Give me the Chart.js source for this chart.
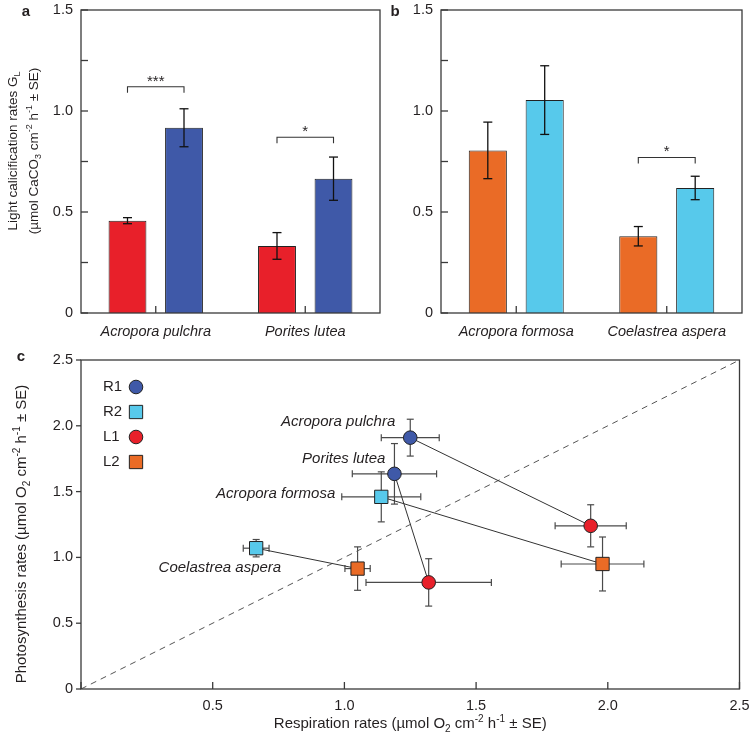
<!DOCTYPE html>
<html>
<head>
<meta charset="utf-8">
<script src="https://cdn.jsdelivr.net/npm/chart.js@4.4.0/dist/chart.umd.min.js"></script>
<style>
body { margin: 0; background: #fff; }
#wrap { position: relative; width: 750px; height: 740px; }
canvas { position: absolute; }
</style>
</head>
<body>
<div id="wrap">
  <canvas id="chartA" width="385" height="345" style="left:0;top:0"></canvas>
  <canvas id="chartB" width="365" height="345" style="left:385px;top:0"></canvas>
  <canvas id="chartC" width="750" height="400" style="left:0;top:340px"></canvas>
</div>
<script>
// ---- panel a: calcification, Acropora pulchra / Porites lutea ----
const speciesA = ['Acropora pulchra', 'Porites lutea'];
const calcL1 = [0.457, 0.332];
const calcL1Err = [0.015, 0.066];
const calcR1 = [0.917, 0.665];
const calcR1Err = [0.094, 0.107];
const sigA = ['***', '*'];
const sigAY = [1.12, 0.87];

// ---- panel b: calcification, Acropora formosa / Coelastrea aspera ----
const speciesB = ['Acropora formosa', 'Coelastrea aspera'];
const calcL2 = [0.805, 0.380];
const calcL2Err = [0.14, 0.048];
const calcR2 = [1.054, 0.619];
const calcR2Err = [0.17, 0.058];
const sigB = ['', '*'];
const sigBY = [null, 0.77];

// ---- panel c: respiration vs photosynthesis ----
const groupNames = ['R1', 'R2', 'L1', 'L2'];
const r1Species = ['Acropora pulchra', 'Porites lutea'];
const r2Species = ['Acropora formosa', 'Coelastrea aspera'];
const r1Resp = [1.25, 1.19];
const r1RespErr = [0.11, 0.16];
const r1Photo = [1.91, 1.635];
const r1PhotoErr = [0.14, 0.23];
const l1Resp = [1.935, 1.32];
const l1RespErr = [0.135, 0.238];
const l1Photo = [1.24, 0.81];
const l1PhotoErr = [0.16, 0.18];
const r2Resp = [1.14, 0.665];
const r2RespErr = [0.15, 0.049];
const r2Photo = [1.46, 1.07];
const r2PhotoErr = [0.19, 0.066];
const l2Resp = [1.98, 1.05];
const l2RespErr = [0.157, 0.048];
const l2Photo = [0.95, 0.915];
const l2PhotoErr = [0.205, 0.165];

const FONT = '"Liberation Sans", Arial, Helvetica, sans-serif';
const INK = '#231f20';
const AXIS = '#3a3a3a';
const RED = '#e8202a', BLUE = '#3f59a8', ORANGE = '#ea6b26', CYAN = '#57c9eb';

Chart.defaults.font.family = FONT;
Chart.defaults.color = INK;

// text with sub/superscript pieces: [text, 'sub'|'sup'|undefined]
function richText(ctx, parts, x, y, size, align) {
    const big = size + 'px ' + FONT;
    const small = Math.round(size * 0.68) + 'px ' + FONT;
    let w = 0;
    parts.forEach(p => { ctx.font = p[1] ? small : big; w += ctx.measureText(p[0]).width; });
    let cx = align === 'center' ? x - w / 2 : x;
    ctx.textAlign = 'left';
    ctx.textBaseline = 'middle';
    parts.forEach(p => {
        ctx.font = p[1] ? small : big;
        const dy = p[1] === 'sub' ? size * 0.32 : p[1] === 'sup' ? -size * 0.32 : 0;
        ctx.fillText(p[0], cx, y + dy);
        cx += ctx.measureText(p[0]).width;
    });
}

function verticalText(ctx, parts, x, y, size) {
    ctx.save();
    ctx.translate(x, y);
    ctx.rotate(-Math.PI / 2);
    richText(ctx, parts, 0, 0, size, 'center');
    ctx.restore();
}

function line(ctx, x0, y0, x1, y1) {
    ctx.beginPath();
    ctx.moveTo(x0, y0);
    ctx.lineTo(x1, y1);
    ctx.stroke();
}

function tickLabel(v) {
    if (Math.abs(v * 2 - Math.round(v * 2)) > 1e-9) return '';
    return v === 0 ? '0' : v.toFixed(1);
}

// no chart.js gridlines or tick marks; plugins draw the ticks
const noGrid = { display: false, drawTicks: false, tickLength: 0 };

// error bars, frame, ticks and significance brackets for the bar panels
const barDecor = {
    id: 'barDecor',
    afterDatasetsDraw(chart, args, opts) {
        const { ctx, chartArea: a, scales: { x, y } } = chart;
        ctx.save();
        ctx.strokeStyle = '#111';
        ctx.lineWidth = 1.3;
        chart.data.datasets.forEach((ds, di) => {
            chart.getDatasetMeta(di).data.forEach((bar, i) => {
                const top = y.getPixelForValue(ds.data[i] + ds.errors[i]);
                const bot = y.getPixelForValue(ds.data[i] - ds.errors[i]);
                line(ctx, bar.x, top, bar.x, bot);
                line(ctx, bar.x - 4.5, top, bar.x + 4.5, top);
                line(ctx, bar.x - 4.5, bot, bar.x + 4.5, bot);
            });
        });

        ctx.strokeStyle = AXIS;
        ctx.lineWidth = 1.3;
        ctx.strokeRect(a.left, a.top, a.right - a.left, a.bottom - a.top);
        y.ticks.forEach(t => {
            const py = y.getPixelForValue(t.value);
            line(ctx, a.left, py, a.left + 7, py);
        });
        x.ticks.forEach((t, i) => {
            const px = x.getPixelForValue(i);
            line(ctx, px, a.bottom, px, a.bottom - 7);
        });

        // brackets
        ctx.strokeStyle = '#333';
        ctx.lineWidth = 1.1;
        ctx.fillStyle = INK;
        ctx.font = '15px ' + FONT;
        ctx.textAlign = 'center';
        ctx.textBaseline = 'alphabetic';
        opts.labels.forEach((lab, i) => {
            if (!lab) return;
            const x0 = chart.getDatasetMeta(0).data[i].x;
            const x1 = chart.getDatasetMeta(1).data[i].x;
            const py = y.getPixelForValue(opts.levels[i]);
            ctx.beginPath();
            ctx.moveTo(x0, py + 6);
            ctx.lineTo(x0, py);
            ctx.lineTo(x1, py);
            ctx.lineTo(x1, py + 6);
            ctx.stroke();
            ctx.fillText(lab, (x0 + x1) / 2, py - 1);
        });
        ctx.restore();
    },
    afterDraw(chart, args, opts) {
        const { ctx } = chart;
        ctx.save();
        ctx.fillStyle = INK;
        ctx.font = 'bold 15px ' + FONT;
        ctx.textAlign = 'center';
        ctx.textBaseline = 'middle';
        ctx.fillText(opts.letter, opts.letterX, 12);
        (opts.titles || []).forEach((t, i) => verticalText(ctx, t, opts.titleX[i], 151, 13.5));
        ctx.restore();
    }
};

function makeBarChart(id, cats, series, sig, sigY, yWidth, rightPad, letter, letterX, titles, titleX) {
    return new Chart(document.getElementById(id), {
        type: 'bar',
        data: {
            labels: cats,
            datasets: series.map(s => ({
                data: s.values,
                errors: s.errors,
                backgroundColor: s.color,
                borderColor: '#222',
                borderWidth: 1,
                categoryPercentage: 0.756,
                barPercentage: 0.67
            }))
        },
        options: {
            responsive: false,
            animation: false,
            events: [],
            layout: { padding: { top: 10, right: rightPad, left: 0, bottom: 0 } },
            plugins: {
                legend: { display: false },
                tooltip: { enabled: false },
                barDecor: { labels: sig, levels: sigY, letter, letterX, titles, titleX }
            },
            scales: {
                x: {
                    grid: noGrid,
                    border: { display: false },
                    ticks: { font: { size: 14.5, style: 'italic' }, color: INK, padding: 10, maxRotation: 0, autoSkip: false },
                    afterFit: s => { s.height = 32; s.paddingLeft = 0; s.paddingRight = 0; }
                },
                y: {
                    min: 0,
                    max: 1.5,
                    grid: noGrid,
                    border: { display: false },
                    ticks: { stepSize: 0.25, font: { size: 14.5 }, color: INK, padding: 8, callback: tickLabel },
                    afterFit: s => { s.width = yWidth; s.paddingTop = 0; s.paddingBottom = 0; }
                }
            }
        },
        plugins: [barDecor]
    });
}

const titleA1 = [['Light calicification rates G'], ['L', 'sub']];
const titleA2 = [['(µmol CaCO'], ['3', 'sub'], [' cm'], ['-2', 'sup'], [' h'], ['-1', 'sup'], [' ± SE)']];

makeBarChart('chartA', speciesA,
    [{ values: calcL1, errors: calcL1Err, color: RED }, { values: calcR1, errors: calcR1Err, color: BLUE }],
    sigA, sigAY, 81, 5, 'a', 26, [titleA1, titleA2], [13, 34]);

makeBarChart('chartB', speciesB,
    [{ values: calcL2, errors: calcL2Err, color: ORANGE }, { values: calcR2, errors: calcR2Err, color: CYAN }],
    sigB, sigBY, 56, 8, 'b', 10, [], []);

// ---- panel c ----
const toPoints = (xs, ys) => xs.map((v, i) => ({ x: v, y: ys[i] }));

function pointSet(name, xs, xe, ys, ye, color, style) {
    return {
        label: name,
        data: toPoints(xs, ys),
        xErr: xe,
        yErr: ye,
        backgroundColor: color,
        borderColor: '#222',
        borderWidth: 1,
        pointStyle: style,
        pointRadius: style === 'rect' ? 9.4 : 6.8,
        showLine: false,
        order: 0
    };
}

function linkSet(p0, p1, dash) {
    return {
        type: 'line',
        data: [p0, p1],
        borderColor: dash ? '#555' : '#333',
        borderWidth: 1,
        borderDash: dash ? [6, 5] : [],
        pointRadius: 0,
        showLine: true,
        fill: false,
        order: 1
    };
}

const setR1 = pointSet(groupNames[0], r1Resp, r1RespErr, r1Photo, r1PhotoErr, BLUE, 'circle');
const setR2 = pointSet(groupNames[1], r2Resp, r2RespErr, r2Photo, r2PhotoErr, CYAN, 'rect');
const setL1 = pointSet(groupNames[2], l1Resp, l1RespErr, l1Photo, l1PhotoErr, RED, 'circle');
const setL2 = pointSet(groupNames[3], l2Resp, l2RespErr, l2Photo, l2PhotoErr, ORANGE, 'rect');

const links = [];
setR1.data.forEach((p, i) => links.push(linkSet(p, setL1.data[i])));
setR2.data.forEach((p, i) => links.push(linkSet(p, setL2.data[i])));
links.push(linkSet({ x: 0, y: 0 }, { x: 2.5, y: 2.5 }, true));

// where each species name ends, relative to its reef point (pixels)
const labelOffsets = [[-15, -16], [-9, -15], [-46, -3], [25, 20]];

const titleCY = [['Photosynthesis rates (µmol O'], ['2', 'sub'], [' cm'], ['-2', 'sup'], [' h'], ['-1', 'sup'], [' ± SE)']];
const titleCX = [['Respiration rates (µmol O'], ['2', 'sub'], [' cm'], ['-2', 'sup'], [' h'], ['-1', 'sup'], [' ± SE)']];

const scatterDecor = {
    id: 'scatterDecor',
    beforeDatasetsDraw(chart) {
        const { ctx, scales: { x, y } } = chart;
        ctx.save();
        ctx.strokeStyle = '#4a4a4a';
        ctx.lineWidth = 1.2;
        chart.data.datasets.forEach(ds => {
            if (!ds.xErr) return;
            ds.data.forEach((p, i) => {
                const px = x.getPixelForValue(p.x), py = y.getPixelForValue(p.y);
                const x0 = x.getPixelForValue(p.x - ds.xErr[i]), x1 = x.getPixelForValue(p.x + ds.xErr[i]);
                const y0 = y.getPixelForValue(p.y - ds.yErr[i]), y1 = y.getPixelForValue(p.y + ds.yErr[i]);
                line(ctx, x0, py, x1, py);
                line(ctx, x0, py - 3.5, x0, py + 3.5);
                line(ctx, x1, py - 3.5, x1, py + 3.5);
                line(ctx, px, y0, px, y1);
                line(ctx, px - 3.5, y0, px + 3.5, y0);
                line(ctx, px - 3.5, y1, px + 3.5, y1);
            });
        });
        ctx.restore();
    },
    afterDatasetsDraw(chart) {
        const { ctx, chartArea: a, scales: { x, y } } = chart;
        ctx.save();
        ctx.strokeStyle = AXIS;
        ctx.lineWidth = 1.3;
        ctx.strokeRect(a.left, a.top, a.right - a.left, a.bottom - a.top);
        y.ticks.forEach(t => {
            const py = y.getPixelForValue(t.value);
            line(ctx, a.left - 5, py, a.left, py);
        });
        x.ticks.forEach(t => {
            const px = x.getPixelForValue(t.value);
            line(ctx, px, a.bottom, px, a.bottom - 7);
        });

        // legend
        [setR1, setR2, setL1, setL2].forEach((ds, i) => {
            const ly = a.top + 27 + i * 25;
            ctx.fillStyle = INK;
            ctx.font = '15px ' + FONT;
            ctx.textAlign = 'left';
            ctx.textBaseline = 'middle';
            ctx.fillText(ds.label, a.left + 22, ly);
            ctx.fillStyle = ds.backgroundColor;
            ctx.strokeStyle = ds.borderColor;
            ctx.lineWidth = 1;
            Chart.helpers.drawPoint(ctx, { pointStyle: ds.pointStyle, radius: ds.pointRadius, borderWidth: 1, rotation: 0 }, a.left + 55, ly);
        });

        // species names
        ctx.fillStyle = INK;
        ctx.font = 'italic 15px ' + FONT;
        ctx.textAlign = 'right';
        ctx.textBaseline = 'middle';
        const anchors = setR1.data.concat(setR2.data);
        r1Species.concat(r2Species).forEach((name, i) => {
            const p = anchors[i];
            const [dx, dy] = labelOffsets[i];
            ctx.fillText(name, x.getPixelForValue(p.x) + dx, y.getPixelForValue(p.y) + dy);
        });
        ctx.restore();
    },
    afterDraw(chart) {
        const { ctx, chartArea: a } = chart;
        ctx.save();
        ctx.fillStyle = INK;
        ctx.font = 'bold 15px ' + FONT;
        ctx.textAlign = 'center';
        ctx.textBaseline = 'middle';
        ctx.fillText('c', 21, 17);
        verticalText(ctx, titleCY, 22, 194, 15);
        richText(ctx, titleCX, (a.left + a.right) / 2, 384, 15, 'center');
        ctx.restore();
    }
};

new Chart(document.getElementById('chartC'), {
    type: 'scatter',
    data: { datasets: [setR1, setR2, setL1, setL2].concat(links) },
    options: {
        responsive: false,
        animation: false,
        events: [],
        layout: { padding: { top: 20, right: 10.5, left: 0, bottom: 0 } },
        plugins: { legend: { display: false }, tooltip: { enabled: false } },
        scales: {
            x: {
                type: 'linear',
                min: 0,
                max: 2.5,
                grid: noGrid,
                border: { display: false },
                ticks: { stepSize: 0.5, font: { size: 14.5 }, color: INK, padding: 8, callback: v => v === 0 ? '' : v.toFixed(1) },
                afterFit: s => { s.height = 51; s.paddingLeft = 0; s.paddingRight = 0; }
            },
            y: {
                type: 'linear',
                min: 0,
                max: 2.5,
                grid: noGrid,
                border: { display: false },
                ticks: { stepSize: 0.5, font: { size: 14.5 }, color: INK, padding: 8, callback: v => v === 0 ? '0' : v.toFixed(1) },
                afterFit: s => { s.width = 81; s.paddingTop = 0; s.paddingBottom = 0; }
            }
        }
    },
    plugins: [scatterDecor]
});
</script>
</body>
</html>
